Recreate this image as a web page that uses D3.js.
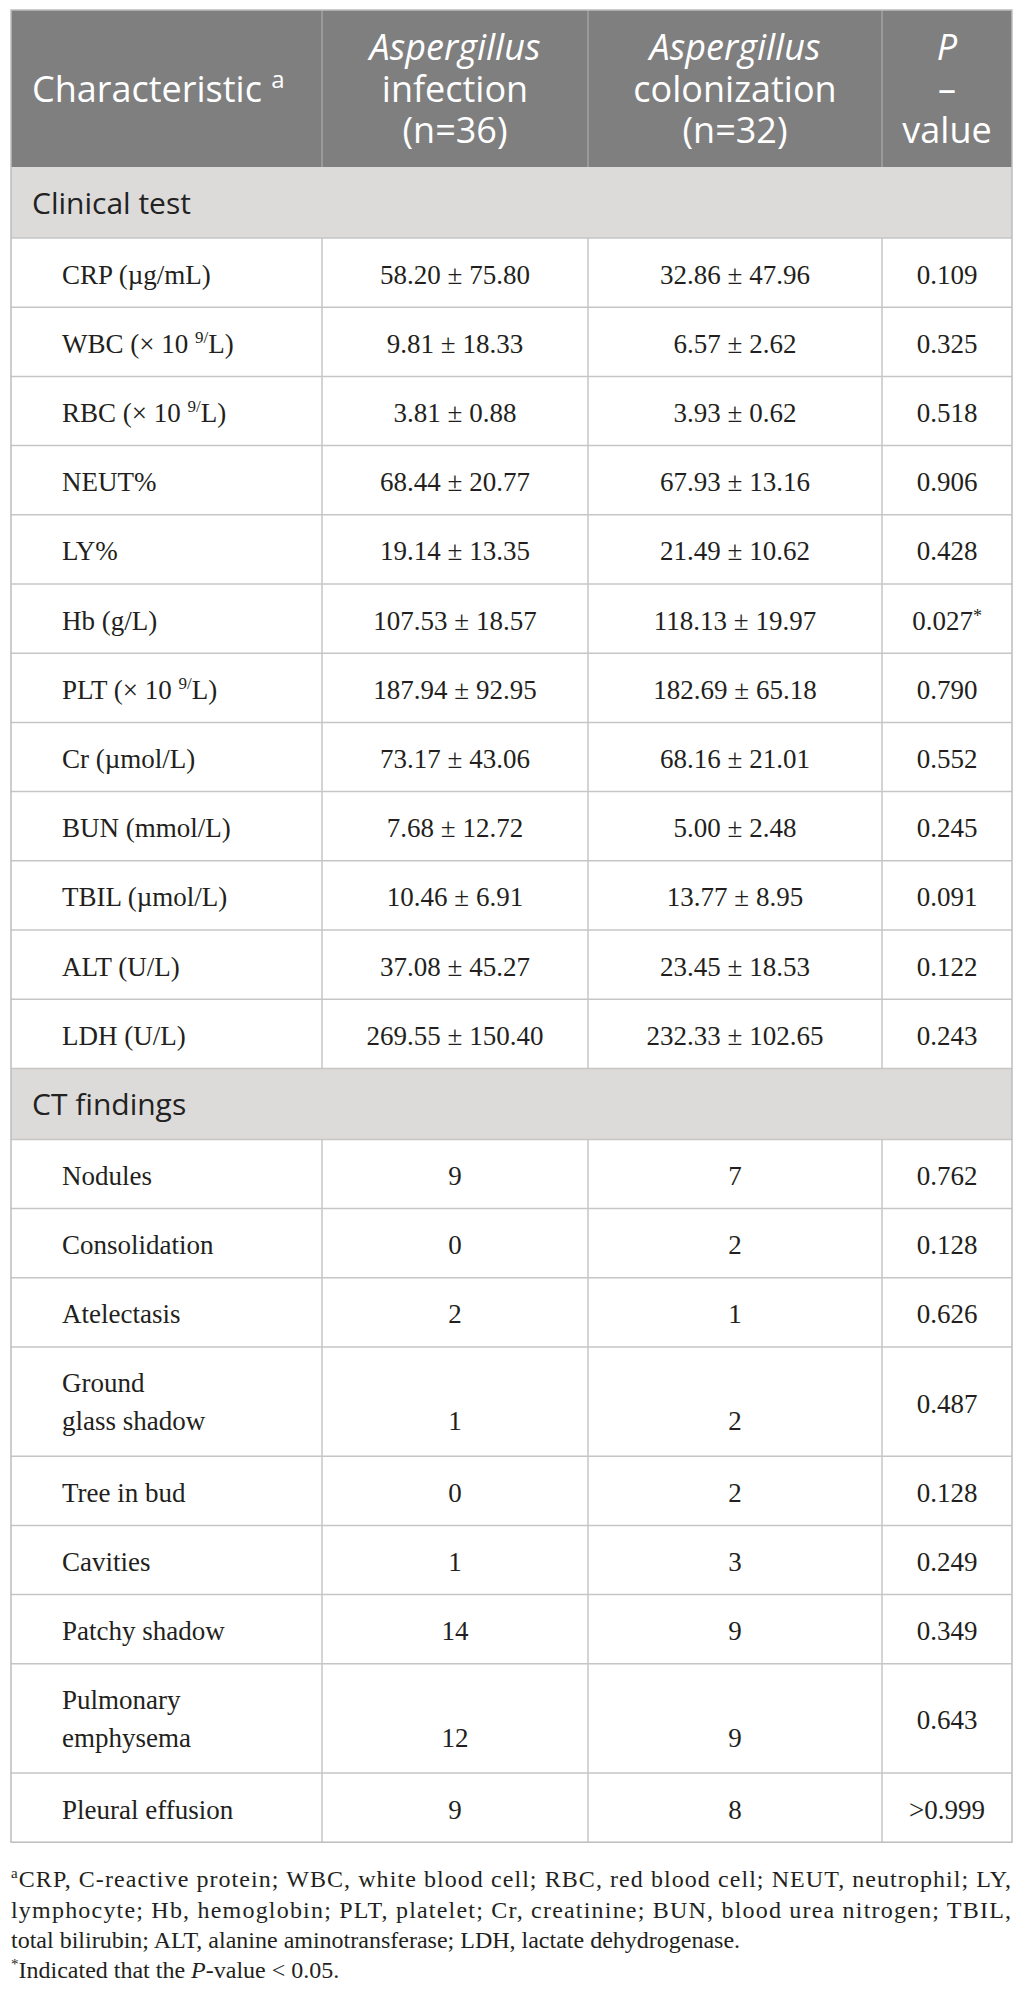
<!DOCTYPE html>
<html>
<head>
<meta charset="utf-8">
<script src="https://cdn.jsdelivr.net/npm/d3@7"></script>
<style>
  html, body { margin: 0; padding: 0; background: #ffffff; }
  svg { display: block; }
</style>
</head>
<body>
<div id="chart"></div>
<script>
// ---------------- DATA ----------------
const headerCharacteristic = "Characteristic";
const headerGroups = [
  { italic: "Aspergillus", lines: ["infection", "(n=36)"] },
  { italic: "Aspergillus", lines: ["colonization", "(n=32)"] }
];
const headerP = ["P", "–", "value"];

const sections = ["Clinical test", "CT findings"];

// Clinical test rows (label parts: [text, superscript, tail])
const clinicalLabels = [
  ["CRP (µg/mL)"],
  ["WBC (× 10 ", "9/", "L)"],
  ["RBC (× 10 ", "9/", "L)"],
  ["NEUT%"],
  ["LY%"],
  ["Hb (g/L)"],
  ["PLT (× 10 ", "9/", "L)"],
  ["Cr (µmol/L)"],
  ["BUN (mmol/L)"],
  ["TBIL (µmol/L)"],
  ["ALT (U/L)"],
  ["LDH (U/L)"]
];
const clinicalInfection = [
  "58.20 ± 75.80", "9.81 ± 18.33", "3.81 ± 0.88", "68.44 ± 20.77",
  "19.14 ± 13.35", "107.53 ± 18.57", "187.94 ± 92.95", "73.17 ± 43.06",
  "7.68 ± 12.72", "10.46 ± 6.91", "37.08 ± 45.27", "269.55 ± 150.40"
];
const clinicalColonization = [
  "32.86 ± 47.96", "6.57 ± 2.62", "3.93 ± 0.62", "67.93 ± 13.16",
  "21.49 ± 10.62", "118.13 ± 19.97", "182.69 ± 65.18", "68.16 ± 21.01",
  "5.00 ± 2.48", "13.77 ± 8.95", "23.45 ± 18.53", "232.33 ± 102.65"
];
const clinicalP = [
  "0.109", "0.325", "0.518", "0.906", "0.428", "0.027*",
  "0.790", "0.552", "0.245", "0.091", "0.122", "0.243"
];

// CT findings rows (labels may wrap to two lines)
const ctLabels = [
  ["Nodules"], ["Consolidation"], ["Atelectasis"], ["Ground", "glass shadow"],
  ["Tree in bud"], ["Cavities"], ["Patchy shadow"], ["Pulmonary", "emphysema"],
  ["Pleural effusion"]
];
const ctInfection = [9, 0, 2, 1, 0, 1, 14, 12, 9];
const ctColonization = [7, 2, 1, 2, 2, 3, 9, 9, 8];
const ctP = ["0.762", "0.128", "0.626", "0.487", "0.128", "0.249", "0.349", "0.643", ">0.999"];

const footnoteLines = [
  ["a", "CRP, C-reactive protein; WBC, white blood cell; RBC, red blood cell; NEUT, neutrophil; LY,"],
  ["", "lymphocyte; Hb, hemoglobin; PLT, platelet; Cr, creatinine; BUN, blood urea nitrogen; TBIL,"],
  ["", "total bilirubin; ALT, alanine aminotransferase; LDH, lactate dehydrogenase."],
  ["*", "Indicated that the ", "P", "-value < 0.05."]
];

// ---------------- LAYOUT ----------------
const W = 1026, H = 1995;
const colEdges = [11, 322, 588, 882, 1012];
const tableTop = 10, headerH = 157;
const sectionH = 71;
const lineStep = 40, rowBase = 29.2;   // row height = rowBase + lines*lineStep

const sans = "'Open Sans', 'Noto Sans', sans-serif";
const serif = "'Liberation Serif', 'DejaVu Serif', serif";
const bodySize = 27;
const gridColor = "#c6c6c6";
const textColor = "#231f20";

// Build row list
const rows = [];
rows.push({ type: "section", label: sections[0], units: sectionH });
clinicalLabels.forEach((l, i) => rows.push({
  type: "row", label: [l], c1: clinicalInfection[i], c2: clinicalColonization[i], p: clinicalP[i], lines: 1
}));
rows.push({ type: "section", label: sections[1], units: sectionH });
ctLabels.forEach((l, i) => rows.push({
  type: "row", label: l.map(t => [t]), c1: String(ctInfection[i]), c2: String(ctColonization[i]), p: ctP[i], lines: l.length
}));
rows.forEach(r => { if (r.type === "row") r.units = rowBase + r.lines * lineStep; });

const cum = [0, ...d3.cumsum(rows, r => r.units)];
const y = d3.scaleLinear().domain([0, cum[cum.length - 1]])
  .range([tableTop + headerH, tableTop + headerH + cum[cum.length - 1]]);
rows.forEach((r, i) => { r.y0 = y(cum[i]); r.y1 = y(cum[i + 1]); });

const x = d3.scaleOrdinal().domain([0, 1, 2, 3, 4]).range(colEdges);
const colCenter = i => (x(i) + x(i + 1)) / 2;

const svg = d3.select("#chart").append("svg")
  .attr("width", W).attr("height", H)
  .attr("viewBox", `0 0 ${W} ${H}`);

svg.append("rect").attr("width", W).attr("height", H).attr("fill", "#ffffff");

// ---------------- HEADER ----------------
const hdr = svg.append("g");
hdr.append("rect")
  .attr("x", x(0)).attr("y", tableTop)
  .attr("width", x(4) - x(0)).attr("height", headerH)
  .attr("fill", "#7f7f7f");
[1, 2, 3].forEach(i => hdr.append("line")
  .attr("x1", x(i)).attr("x2", x(i))
  .attr("y1", tableTop).attr("y2", tableTop + headerH)
  .attr("stroke", "#a2a2a2").attr("stroke-width", 1.5));

const hFont = 36;
const hBase = [60, 102, 143];
const ch = hdr.append("text")
  .attr("x", 32).attr("y", hBase[1])
  .attr("font-family", sans).attr("font-size", hFont).attr("fill", "#ffffff");
ch.append("tspan").text(headerCharacteristic + " ");
ch.append("tspan").attr("font-size", 24).attr("dy", -14).text("a");

headerGroups.forEach((g, gi) => {
  const cx = colCenter(gi + 1);
  const t = hdr.append("text").attr("text-anchor", "middle")
    .attr("font-family", sans).attr("font-size", hFont).attr("fill", "#ffffff");
  t.append("tspan").attr("x", cx).attr("y", hBase[0]).attr("font-style", "italic").text(g.italic);
  g.lines.forEach((ln, li) => t.append("tspan").attr("x", cx).attr("y", hBase[li + 1]).text(ln));
});
{
  const cx = colCenter(3);
  const t = hdr.append("text").attr("text-anchor", "middle")
    .attr("font-family", sans).attr("font-size", hFont).attr("fill", "#ffffff");
  headerP.forEach((ln, li) => t.append("tspan").attr("x", cx).attr("y", hBase[li])
    .attr("font-style", li === 0 ? "italic" : "normal").text(ln));
}

// ---------------- BODY ----------------
const body = svg.append("g");

const secRows = rows.filter(r => r.type === "section");
body.selectAll("rect.sec").data(secRows).join("rect")
  .attr("class", "sec")
  .attr("x", x(0)).attr("y", d => d.y0)
  .attr("width", x(4) - x(0)).attr("height", d => d.y1 - d.y0)
  .attr("fill", "#dcdbda");

body.selectAll("text.sec").data(secRows).join("text")
  .attr("class", "sec")
  .attr("x", 32).attr("y", d => (d.y0 + d.y1) / 2 + 11)
  .attr("font-family", sans).attr("font-size", 30).attr("fill", "#222222")
  .text(d => d.label);

const dataRows = rows.filter(r => r.type === "row");

// vertical cell borders in data rows
dataRows.forEach(r => {
  [1, 2, 3].forEach(i => body.append("line")
    .attr("x1", x(i)).attr("x2", x(i)).attr("y1", r.y0).attr("y2", r.y1)
    .attr("stroke", gridColor).attr("stroke-width", 1.5));
});

// horizontal lines
body.selectAll("line.h").data(rows.slice(1)).join("line")
  .attr("class", "h")
  .attr("x1", x(0)).attr("x2", x(4))
  .attr("y1", d => d.y0).attr("y2", d => d.y0)
  .attr("stroke", gridColor).attr("stroke-width", 1.5);

// outer border
svg.append("rect")
  .attr("x", x(0)).attr("y", tableTop)
  .attr("width", x(4) - x(0)).attr("height", y.range()[1] - tableTop)
  .attr("fill", "none").attr("stroke", "#bdbdbd").attr("stroke-width", 1.5);

dataRows.forEach(r => {
  const firstBase = r.y0 + (r.lines === 1 ? (r.y1 - r.y0) / 2 + 11 : 45);
  const lastBase = firstBase + (r.lines - 1) * 38;
  // label
  const lt = body.append("text").attr("font-family", serif).attr("font-size", bodySize).attr("fill", textColor);
  r.label.forEach((p, li) => {
    lt.append("tspan").attr("x", 62).attr("y", firstBase + li * 38).text(p[0]);
    if (p.length > 1) {
      lt.append("tspan").attr("font-size", 17).attr("dy", -10).text(p[1]);
      lt.append("tspan").attr("font-size", bodySize).attr("dy", 10).text(p[2]);
    }
  });
  // values
  [[1, r.c1], [2, r.c2]].forEach(([ci, v]) => body.append("text")
    .attr("x", colCenter(ci)).attr("y", lastBase).attr("text-anchor", "middle")
    .attr("font-family", serif).attr("font-size", bodySize).attr("fill", textColor).text(v));
  const pBase = r.y0 + (r.y1 - r.y0) / 2 + 11;
  const pt = body.append("text").attr("x", colCenter(3)).attr("y", pBase).attr("text-anchor", "middle")
    .attr("font-family", serif).attr("font-size", bodySize).attr("fill", textColor);
  if (r.p.endsWith("*")) {
    pt.append("tspan").text(r.p.slice(0, -1));
    pt.append("tspan").attr("font-size", 18).attr("dy", -8).text("*");
  } else {
    pt.text(r.p);
  }
});

// ---------------- FOOTNOTES ----------------
const fSize = 24;
const fBase = [1887, 1918, 1948, 1978];
const fn = svg.append("g").attr("font-family", serif).attr("font-size", fSize).attr("fill", textColor);
footnoteLines.forEach((parts, i) => {
  const t = fn.append("text").attr("x", 11).attr("y", fBase[i]);
  if (i < 2) t.attr("textLength", 1000).attr("lengthAdjust", "spacing");
  if (parts[0]) t.append("tspan").attr("font-size", 15).attr("dy", -9).text(parts[0]);
  const rest = parts.slice(1);
  rest.forEach((s, k) => {
    const ts = t.append("tspan").text(s);
    if (k === 0 && parts[0]) ts.attr("dy", 9);
    if (i === 3 && k === 1) ts.attr("font-style", "italic");
  });
});
</script>
</body>
</html>
